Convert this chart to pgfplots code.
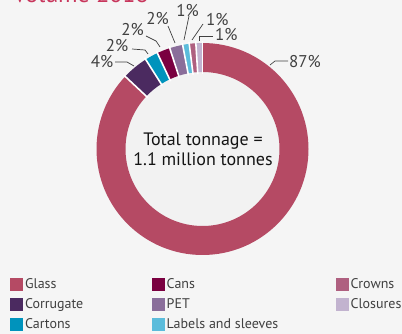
\documentclass[border=0pt]{standalone}
\usepackage{fontspec}
\setmainfont{PT Sans}
\usepackage{pgfplots}
\usepackage{pgfplotstable}
\pgfplotsset{compat=1.18}
\usetikzlibrary{calc}

\definecolor{cBg}{HTML}{F5F5F5}
\definecolor{cInner}{HTML}{F2F2F2}
\definecolor{cGlass}{HTML}{B54A64}
\definecolor{cCorr}{HTML}{4B2A60}
\definecolor{cCart}{HTML}{0093BC}
\definecolor{cCans}{HTML}{7A0040}
\definecolor{cPET}{HTML}{8A6E9A}
\definecolor{cLab}{HTML}{5BBCDB}
\definecolor{cCrown}{HTML}{AF6080}
\definecolor{cClos}{HTML}{C2B3CF}
\definecolor{cTitle}{HTML}{C8365C}
\definecolor{cText}{HTML}{404040}
\definecolor{cDark}{HTML}{141414}

% share of total tonnage (%), clockwise from 12 o'clock
\pgfplotstableread[col sep=comma]{
share,color
87,cGlass
4,cCorr
2,cCart
2,cCans
2,cPET
1,cLab
1,cCrown
1,cClos
}\donut

\newcommand\sq[1]{\addlegendimage{legend image code/.code={\fill[#1] (0bp,-6bp) rectangle (12bp,6bp);}}}

\begin{document}
\begin{tikzpicture}
\path[use as bounding box, clip] (0,0) rectangle (402bp,334bp);
\fill[cBg] (0,0) rectangle (402bp,334bp);
\begin{axis}[
  at={(0,0)}, anchor=south west,
  scale only axis, width=402bp, height=334bp,
  xmin=0, xmax=402, ymin=0, ymax=334,
  hide axis, clip=false,
  legend columns=3,
  legend cell align=left,
  legend style={at={(axis cs:10,58.5)}, anchor=north west, draw=none, fill=none,
    inner sep=0pt, font=\fontsize{14bp}{16bp}\selectfont, text=cText,
    row sep=3.8bp, nodes={inner sep=2.5bp},
    /tikz/column 2/.style={column sep=66bp},
    /tikz/column 4/.style={column sep=55bp}},
]
\sq{cGlass}\addlegendentry{Glass}
\sq{cCans}\addlegendentry{Cans}
\sq{cCrown}\addlegendentry{Crowns}
\sq{cCorr}\addlegendentry{Corrugate}
\sq{cPET}\addlegendentry{PET}
\sq{cClos}\addlegendentry{Closures}
\sq{cCart}\addlegendentry{Cartons}
\sq{cLab}\addlegendentry{Labels and sleeves}

\pgfplotsextra{
  \coordinate (C) at (axis cs:202.5,185);
  \fill[cInner] (C) circle[radius=77bp];
  \gdef\cum{90}
  \pgfplotstablegetrowsof{\donut}
  \pgfmathtruncatemacro\N{\pgfplotsretval-1}
  \foreach \i in {0,...,\N}{
    \pgfplotstablegetelem{\i}{share}\of\donut \let\segv\pgfplotsretval
    \pgfplotstablegetelem{\i}{color}\of\donut \let\segcol\pgfplotsretval
    \pgfmathsetmacro\e{\cum-3.6*\segv}
    \fill[fill=\segcol] ($(C)+(\cum:106bp)$) arc[start angle=\cum, end angle=\e, radius=106bp]
       -- ($(C)+(\e:77bp)$) arc[start angle=\e, end angle=\cum, radius=77bp] -- cycle;
    \xdef\cum{\e}
  }
  \gdef\cum{90}
  \foreach \i in {0,...,\N}{
    \pgfplotstablegetelem{\i}{share}\of\donut \let\segv\pgfplotsretval
    \draw[white, line width=1.6bp] ($(C)+(\cum:75bp)$) -- ($(C)+(\cum:108bp)$);
    \pgfmathsetmacro\e{\cum-3.6*\segv}
    \xdef\cum{\e}
  }
  % leader lines
  \draw[cText, line width=0.7bp] (axis cs:270,269) -- (axis cs:275,273) -- (axis cs:288,273);
  \draw[cText, line width=0.7bp] (axis cs:115,272) -- (axis cs:127,272) -- (axis cs:134,268);
  \draw[cText, line width=0.7bp] (axis cs:132,285) -- (axis cs:145,284) -- (axis cs:148,280);
  \draw[cText, line width=0.7bp] (axis cs:146,298) -- (axis cs:156,293) -- (axis cs:160,287);
  \draw[cText, line width=0.7bp] (axis cs:168,308) -- (axis cs:175,291);
  \draw[cText, line width=0.7bp] (axis cs:189,318) -- (axis cs:184,294);
  \draw[cText, line width=0.7bp] (axis cs:203,310) -- (axis cs:192,294);
  \draw[cText, line width=0.7bp] (axis cs:213,298) -- (axis cs:199,298) -- (axis cs:199,293);
}
\begin{scope}[every node/.style={text=cText, inner sep=0pt, font=\fontsize{17bp}{17bp}\selectfont}]
\node[anchor=west] at (axis cs:289,272) {87\%};
\node[anchor=east] at (axis cs:113.5,272) {4\%};
\node[anchor=east] at (axis cs:128.5,288) {2\%};
\node[anchor=east] at (axis cs:144,304.5) {2\%};
\node[anchor=east] at (axis cs:169,315) {2\%};
\node[anchor=east] at (axis cs:199,323) {1\%};
\node[anchor=west] at (axis cs:206,314.5) {1\%};
\node[anchor=west] at (axis cs:215,299.5) {1\%};
\end{scope}
\node[align=center, text=cDark, font=\fontsize{18bp}{19.5bp}\selectfont] at (axis cs:203,184.5) {Total tonnage =\\1.1 million tonnes};
\node[anchor=base west, text=cTitle, inner sep=0pt, font=\fontsize{24bp}{24bp}\selectfont] at (axis cs:13,331.5) {Volume 2018};
\end{axis}
\end{tikzpicture}
\end{document}
